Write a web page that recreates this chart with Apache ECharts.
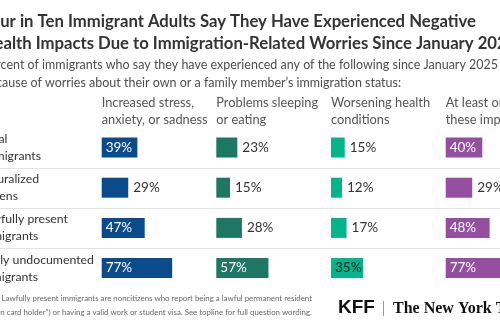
<!DOCTYPE html>
<html><head><meta charset="utf-8">
<script src="https://cdn.jsdelivr.net/npm/echarts@6/dist/echarts.min.js"></script>
<style>html,body{margin:0;padding:0;background:#fff}#c{width:500px;height:330px}</style>
</head><body><div id="c"></div><script>
// ---- data ----
const categories = ['Total immigrants', 'Naturalized citizens', 'Lawfully present immigrants', 'Likely undocumented immigrants'];
const categoryLines = [['Total', 'immigrants'], ['Naturalized', 'citizens'], ['Lawfully present', 'immigrants'], ['Likely undocumented', 'immigrants']];
const columnHeaders = [['Increased stress,', 'anxiety, or sadness'], ['Problems sleeping', 'or eating'], ['Worsening health', 'conditions'], ['At least one of', 'these impacts']];
const stressValues = [39, 29, 47, 77];
const sleepingValues = [23, 15, 28, 57];
const healthValues = [15, 12, 17, 35];
const anyImpactValues = [40, 29, 48, 77];
const titleLines = ['Four in Ten Immigrant Adults Say They Have Experienced Negative', 'Health Impacts Due to Immigration-Related Worries Since January 2025'];
const subtitleLines = ['Percent of immigrants who say they have experienced any of the following since January 2025', 'because of worries about their own or a family member\u2019s immigration status:'];
const noteLines = ['Note: Lawfully present immigrants are noncitizens who report being a lawful permanent resident', '(\u201cgreen card holder\u201d) or having a valid work or student visa. See topline for full question wording.'];

// ---- layout / style ----
const FF = 'Lato, "Noto Sans", sans-serif';
const seriesValues = [stressValues, sleepingValues, healthValues, anyImpactValues];
const colors = ['#0b4b8c', '#1d7763', '#05b48b', '#954fa0'];
const insideText = ['#ffffff', '#ffffff', '#222222', '#ffffff'];
const colX = [101.7, 216.3, 331, 445.7];
const gridTop = 127.4, gridH = 160.8, gridW = 91.5;
const W = 500;

const ctx = document.createElement('canvas').getContext('2d');
function tw(text, font) { ctx.font = font; return ctx.measureText(text).width; }
// font size so that `text` is `target` px wide
function fit(text, target, weight) {
  const base = 20;
  return base * target / tw(text, (weight ? weight + ' ' : '') + base + 'px ' + FF);
}

const chart = echarts.init(document.getElementById('c'), null, { renderer: 'canvas' });

const valueFont = 13.5;
const grids = [], xAxes = [], yAxes = [], series = [];
seriesValues.forEach((vals, i) => {
  const avail = Math.min(gridW, W - colX[i]);          // cropped at the right edge
  grids.push({ left: colX[i], top: gridTop, width: avail, height: gridH, containLabel: false });
  xAxes.push({ type: 'value', gridIndex: i, min: 0, max: 100 * avail / gridW, show: false });
  yAxes.push({ type: 'category', gridIndex: i, data: categories, inverse: true, show: false });
  series.push({
    type: 'bar', xAxisIndex: i, yAxisIndex: i, barWidth: 20, silent: true,
    itemStyle: { color: colors[i] },
    data: vals.map(v => {
      const inside = v >= 33;
      return {
        value: v,
        label: {
          show: true,
          position: inside ? 'insideLeft' : 'right',
          distance: inside ? 4 : 5,
          color: inside ? insideText[i] : '#333333',
          fontFamily: FF, fontSize: valueFont,
          formatter: '{c}%'
        }
      };
    })
  });
});

chart.setOption({
  animation: false,
  backgroundColor: '#ffffff',
  grid: grids, xAxis: xAxes, yAxis: yAxes, series: series
});

// ---- text & decorations ----
const g = [];
function txt(text, x, y, font, fill, align) {
  g.push({ type: 'text', silent: true, style: { text: text, x: x, y: y, font: font, fill: fill, textAlign: align || 'left', textVerticalAlign: 'middle' } });
}
// title (cropped in reference): visible part of line 1 spans 0..476
const tSize = fit('ur in Ten Immigrant Adults Say They Have Experienced Negative', 476, 'bold');
const titleFont = 'bold ' + tSize + 'px ' + FF;
const titleX = 476 - tw(titleLines[0], titleFont);
txt(titleLines[0], titleX, 22, titleFont, '#333333');
txt(titleLines[1], titleX, 43.5, titleFont, '#333333');
// subtitle: visible part of line 1 spans 0..498
const sSize = fit('cent of immigrants who say they have experienced any of the following since January 2025', 498);
const subFont = sSize + 'px ' + FF;
const subX = 498 - tw(subtitleLines[0], subFont);
txt(subtitleLines[0], subX, 65, subFont, '#4d4d4d');
txt(subtitleLines[1], subX, 82.5, subFont, '#4d4d4d');
// column headers
const hSize = fit('anxiety, or sadness', 106);
const headFont = hSize + 'px ' + FF;
columnHeaders.forEach((lines, i) => {
  txt(lines[0], colX[i], 102.7, headFont, '#555555');
  txt(lines[1], colX[i], 119.7, headFont, '#555555');
});
// row labels and separators
const rSize = fit('ly undocumented', 94);
const rowFont = rSize + 'px ' + FF;
const centers = categories.map(c => chart.convertToPixel({ yAxisIndex: 0 }, c));
const refEnds = [41, 41, 68, 94];   // right end of the reference line of each label
categoryLines.forEach((lines, i) => {
  const ref = i === 1 ? lines[1] : lines[i >= 2 ? 0 : 1];
  const end = i === 1 ? 18 : refEnds[i];
  const x = end - tw(ref, rowFont);
  txt(lines[0], x, centers[i] - 8.5, rowFont, '#333333');
  txt(lines[1], x, centers[i] + 8.5, rowFont, '#333333');
});
for (let i = 0; i < centers.length - 1; i++) {
  const y = Math.round((centers[i] + centers[i + 1]) / 2) + 0.5;
  g.push({ type: 'line', silent: true, shape: { x1: 0, y1: y, x2: W, y2: y }, style: { stroke: '#e4e4e4', lineWidth: 1 } });
}
// note
const nSize = fit('Lawfully present immigrants are noncitizens who report being a lawful permanent resident', 311);
const noteFont = nSize + 'px ' + FF;
const noteX = 312 - tw(noteLines[0], noteFont);
txt(noteLines[0], noteX, 298.5, noteFont, '#666666');
txt(noteLines[1], noteX, 312, noteFont, '#666666');
// logos
txt('KFF', 338, 308, 'bold 19px "Liberation Sans", Arial, sans-serif', '#111111');
g.push({ type: 'line', silent: true, shape: { x1: 383.5, y1: 301, x2: 383.5, y2: 316 }, style: { stroke: '#999999', lineWidth: 1 } });
txt('The New York Times', 393, 309, 'bold 16px "Liberation Serif", "DejaVu Serif", serif', '#111111');

chart.setOption({ graphic: { elements: g } });
</script></body></html>
